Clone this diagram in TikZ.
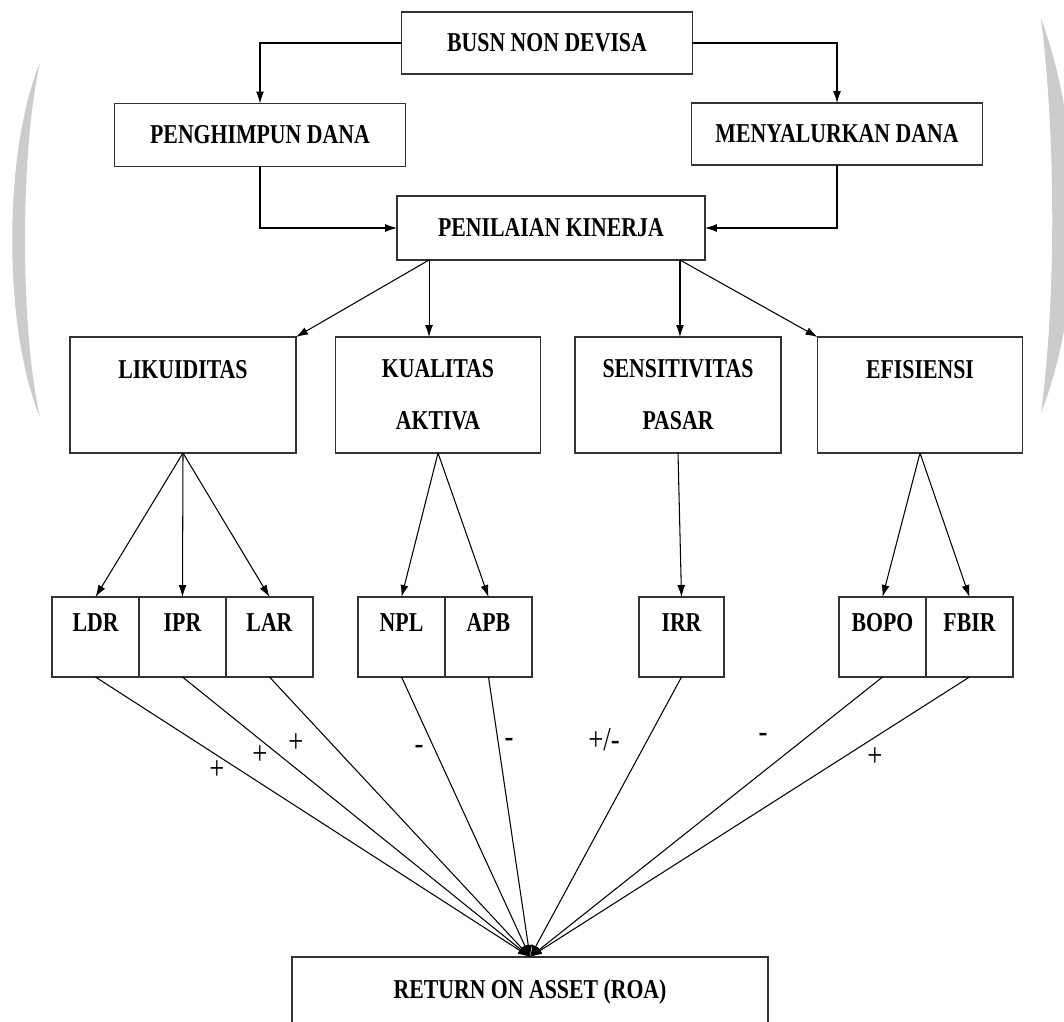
\documentclass[tikz,border=0pt]{standalone}
\usepackage{fontspec}
\setmainfont{Liberation Serif}[FakeStretch=0.8]
\usetikzlibrary{positioning,arrows.meta}

\tikzset{
  box/.style={draw=black!80, line width=1pt, fill=white, outer sep=0pt, align=center,
    font=\bfseries\fontsize{15.5}{18}\selectfont},
  catbox/.style={box, minimum height=2.32cm, font=\bfseries\fontsize{15.5}{29.6}\selectfont},
  leafbox/.style={box, minimum width=1.74cm, minimum height=1.6cm,
    font=\bfseries\fontsize{15.5}{16}\selectfont},
  arr/.style={-{Latex[length=0.24cm,width=0.16cm]}, line width=0.6pt},
  sign/.style={font=\fontsize{19}{20}\selectfont},
  wm/.style={fill=black!20}
}

\begin{document}
\begin{tikzpicture}[x=0.02cm, y=-0.02cm]

  % Page frame, in pixels of the original (y runs downwards).
  \useasboundingbox (0,0) rectangle (1064,1021);
  \clip (0,0) rectangle (1064,1021);

  % ---- Watermark arcs at the edges ----
  \fill[wm] (40,63) .. controls (3,150) and (3,330) .. (40,417)
    .. controls (20,330) and (20,150) .. (40,63) -- cycle;
  \fill[wm] (1041,18) .. controls (1056,140) and (1056,300) .. (1041,413)
    .. controls (1085,300) and (1085,140) .. (1041,18) -- cycle;

  % ---- Row 1-3: bank, its two functions, assessment ----
  \node[box, minimum width=5.82cm, minimum height=1.24cm] (busn) at (547,43) {BUSN NON DEVISA};
  \node[box, minimum width=5.82cm, minimum height=1.26cm] (ph) at (260,135) {PENGHIMPUN DANA};
  \node[box, minimum width=5.82cm, minimum height=1.24cm] (my) at (837,134) {MENYALURKAN DANA};
  \node[box, minimum width=6.16cm, minimum height=1.28cm] (pk) at (551,228) {PENILAIAN KINERJA};

  \draw[arr] (busn.west) -| (ph.north);
  \draw[arr] (busn.east) -| (my.north);
  \draw[arr] (ph.south) |- (pk.west);
  \draw[arr] (my.south) |- (pk.east);

  % ---- Row 4: the four aspects ----
  \node[catbox, minimum width=4.52cm] (lik) at (183,395) {LIKUIDITAS\\~};
  \node[catbox, minimum width=4.10cm] (ka)  at (438,395) {KUALITAS\\AKTIVA};
  \node[catbox, minimum width=4.12cm] (sp)  at (678,395) {SENSITIVITAS\\PASAR};
  \node[catbox, minimum width=4.10cm] (ef)  at (920,395) {EFISIENSI\\~};

  \coordinate (pkL) at ([xshift=0.64cm]pk.south west);
  \coordinate (pkR) at ([xshift=-0.5cm]pk.south east);
  \draw[arr] (pkL) -- (lik.north east);
  \draw[arr] (pkL) -- (pkL |- ka.north);
  \draw[arr] (pkR) -- (pkR |- sp.north);
  \draw[arr] (pkR) -- (ef.north west);

  % ---- Row 5: ratios ----
  \node[leafbox] (ldr) at (95.5,637) {LDR\\~};
  \node[leafbox, right=0pt of ldr] (ipr) {IPR\\~};
  \node[leafbox, right=0pt of ipr] (lar) {LAR\\~};
  \node[leafbox] (npl) at (401.5,637) {NPL\\~};
  \node[leafbox, right=0pt of npl] (apb) {APB\\~};
  \node[leafbox, minimum width=1.70cm] (irr) at (681.5,637) {IRR\\~};
  \node[leafbox] (bopo) at (882.5,637) {BOPO\\~};
  \node[leafbox, right=0pt of bopo] (fbir) {FBIR\\~};

  \foreach \r in {ldr,ipr,lar} \draw[arr] (lik.south) -- (\r.north);
  \foreach \r in {npl,apb} \draw[arr] (ka.south) -- (\r.north);
  \draw[arr] (sp.south) -- (irr.north);
  \foreach \r in {bopo,fbir} \draw[arr] (ef.south) -- (\r.north);

  % ---- Row 6: ROA, reached by every ratio ----
  \node[catbox, minimum width=9.52cm] (roa) at (530,1015) {RETURN ON ASSET (ROA)\\~};

  \foreach \r in {ldr,ipr,lar,npl,apb,irr,bopo,fbir} \draw[arr] (\r.south) -- (roa.north);

  % ---- Signs of the effects ----
  \node[sign] (sLdr)  at (217,770) {+};
  \node[sign] (sIpr)  at (260,755) {+};
  \node[sign] (sLar)  at (296,743) {+};
  \node[sign] (sNpl)  at (419,750) {-};
  \node[sign] (sApb)  at (509,743) {-};
  \node[sign] (sIrr)  at (604,740) {+/-};
  \node[sign] (sBopo) at (763,738) {-};
  \node[sign] (sFbir) at (875,757) {+};

\end{tikzpicture}
\end{document}
